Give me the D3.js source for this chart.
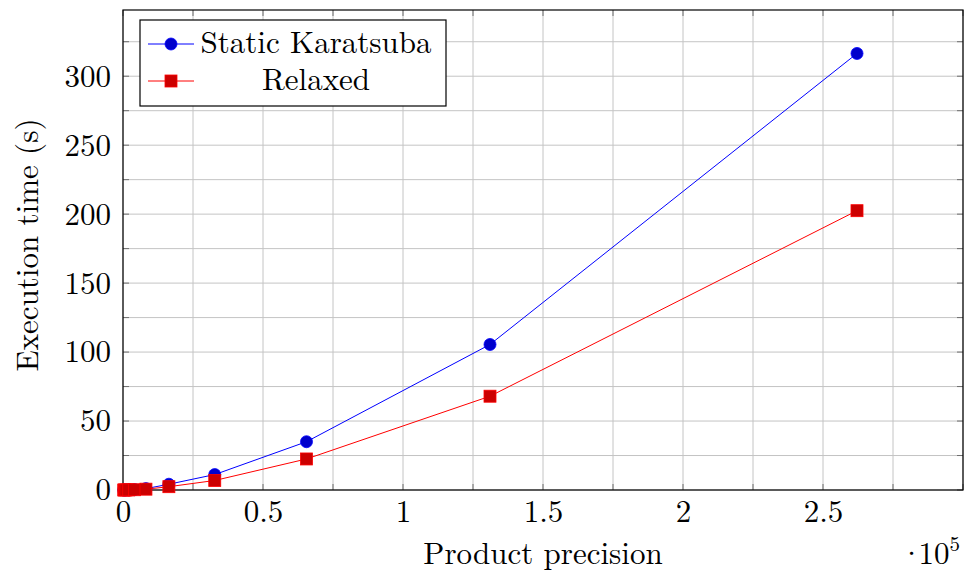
<!DOCTYPE html>
<html>
<head>
<meta charset="utf-8">
<script src="https://cdn.jsdelivr.net/npm/d3@7"></script>
<style>
  body { margin: 0; background: #fff; }
  svg { display: block; }
</style>
</head>
<body>
<div id="chart"></div>
<script>
// product precision (x, in units of 10^5) and execution times (s)
const precision = [0.00256, 0.00512, 0.01024, 0.02048, 0.04096, 0.08192, 0.16384, 0.32768, 0.65536, 1.31072, 2.62144];
const staticKaratsuba = [0.01, 0.02, 0.05, 0.1, 0.3, 1.0, 4.2, 11.2, 35.0, 105.5, 316.5];
const relaxed = [0.01, 0.02, 0.04, 0.08, 0.2, 0.6, 2.4, 6.9, 22.5, 68.0, 202.5];
const seriesNames = ["Static Karatsuba", "Relaxed"];
const xTickLabels = ["0", "0.5", "1", "1.5", "2", "2.5"];
const yTickValues = [0, 50, 100, 150, 200, 250, 300];

const FONT = "'Latin Modern Roman', 'CMU Serif', 'Liberation Serif', serif";
const FS = "31px";
const width = 968, height = 575;
const margin = { top: 10, right: 5, bottom: 85, left: 123 };
const iw = width - margin.left - margin.right;
const ih = height - margin.top - margin.bottom;

const svg = d3.select("#chart").append("svg")
  .attr("width", width)
  .attr("height", height);

const x = d3.scaleLinear().domain([0, 3.0]).range([0, iw]);
const y = d3.scaleLinear().domain([0, 348]).range([ih, 0]);

const g = svg.append("g")
  .attr("transform", "translate(" + margin.left + "," + margin.top + ")");

// grid lines, major and minor
const xGrid = d3.range(0, 3.0001, 0.25);
const yGrid = d3.range(0, 348, 25);

g.append("g").selectAll("line").data(xGrid).enter().append("line")
  .attr("x1", d => x(d)).attr("x2", d => x(d))
  .attr("y1", 0).attr("y2", ih)
  .attr("stroke", "#c4c4c4").attr("stroke-width", 1);

g.append("g").selectAll("line").data(yGrid).enter().append("line")
  .attr("x1", 0).attr("x2", iw)
  .attr("y1", d => y(d)).attr("y2", d => y(d))
  .attr("stroke", "#c4c4c4").attr("stroke-width", 1);

// tick marks on all four sides (inside)
const tickLen = 6;
const tickCol = "#6e6e6e";
const ticksG = g.append("g");
xGrid.forEach(d => {
  ticksG.append("line").attr("x1", x(d)).attr("x2", x(d)).attr("y1", ih).attr("y2", ih - tickLen).attr("stroke", tickCol);
  ticksG.append("line").attr("x1", x(d)).attr("x2", x(d)).attr("y1", 0).attr("y2", tickLen).attr("stroke", tickCol);
});
yGrid.forEach(d => {
  ticksG.append("line").attr("x1", 0).attr("x2", tickLen).attr("y1", y(d)).attr("y2", y(d)).attr("stroke", tickCol);
  ticksG.append("line").attr("x1", iw).attr("x2", iw - tickLen).attr("y1", y(d)).attr("y2", y(d)).attr("stroke", tickCol);
});

// tick labels via d3 axes (lines removed)
const xAxis = d3.axisBottom(x)
  .tickValues(d3.range(0, 2.51, 0.5))
  .tickFormat((d, i) => xTickLabels[i])
  .tickSize(0).tickPadding(10);
const xa = g.append("g").attr("transform", "translate(0," + ih + ")").call(xAxis);
xa.select(".domain").remove();
xa.selectAll("text").style("font-family", FONT).style("font-size", FS).attr("fill", "#000");

const yAxis = d3.axisLeft(y)
  .tickValues(yTickValues)
  .tickFormat(d3.format("d"))
  .tickSize(0).tickPadding(12);
const ya = g.append("g").call(yAxis);
ya.select(".domain").remove();
ya.selectAll("text").style("font-family", FONT).style("font-size", FS).attr("fill", "#000");

// frame
g.append("rect").attr("x", 0).attr("y", 0).attr("width", iw).attr("height", ih)
  .attr("fill", "none").attr("stroke", "#000").attr("stroke-width", 1.2);

// series
const line = d3.line().x(d => x(d[0])).y(d => y(d[1]));
const blueData = precision.map((p, i) => [p, staticKaratsuba[i]]);
const redData = precision.map((p, i) => [p, relaxed[i]]);

g.append("path").datum(blueData).attr("d", line)
  .attr("fill", "none").attr("stroke", "#0000ff").attr("stroke-width", 1);
g.selectAll(".bm").data(blueData).enter().append("circle")
  .attr("cx", d => x(d[0])).attr("cy", d => y(d[1])).attr("r", 6)
  .attr("fill", "#0000cc").attr("stroke", "#0000ff").attr("stroke-width", 0.8);

g.append("path").datum(redData).attr("d", line)
  .attr("fill", "none").attr("stroke", "#ff0000").attr("stroke-width", 1);
g.selectAll(".rm").data(redData).enter().append("rect")
  .attr("x", d => x(d[0]) - 6).attr("y", d => y(d[1]) - 6)
  .attr("width", 12).attr("height", 12)
  .attr("fill", "#cc0000").attr("stroke", "#ff0000").attr("stroke-width", 0.8);

// axis titles
svg.append("text")
  .attr("x", 543).attr("y", 564)
  .attr("text-anchor", "middle")
  .style("font-family", FONT).style("font-size", FS)
  .text("Product precision");

const mult = svg.append("text").attr("x", 960).attr("y", 564)
  .attr("text-anchor", "end")
  .style("font-family", FONT).style("font-size", FS);
mult.append("tspan").text("·");
mult.append("tspan").attr("dx", -5).text("10");
mult.append("tspan").attr("dy", -13).style("font-size", "21px").text("5");

svg.append("text")
  .attr("transform", "translate(38,245) rotate(-90)")
  .attr("text-anchor", "middle")
  .style("font-family", FONT).style("font-size", FS)
  .text("Execution time (s)");

// legend
const lg = svg.append("g").attr("transform", "translate(140,20)");
lg.append("rect").attr("width", 306).attr("height", 86)
  .attr("fill", "#fff").attr("stroke", "#000").attr("stroke-width", 1.2);

lg.append("line").attr("x1", 8).attr("x2", 54).attr("y1", 24).attr("y2", 24)
  .attr("stroke", "#0000ff");
lg.append("circle").attr("cx", 31).attr("cy", 24).attr("r", 6)
  .attr("fill", "#0000cc").attr("stroke", "#0000ff").attr("stroke-width", 0.8);
lg.append("text").attr("x", 176).attr("y", 33).attr("text-anchor", "middle")
  .style("font-family", FONT).style("font-size", FS).text(seriesNames[0]);

lg.append("line").attr("x1", 8).attr("x2", 54).attr("y1", 61).attr("y2", 61)
  .attr("stroke", "#ff0000");
lg.append("rect").attr("x", 25).attr("y", 55).attr("width", 12).attr("height", 12)
  .attr("fill", "#cc0000").attr("stroke", "#ff0000").attr("stroke-width", 0.8);
lg.append("text").attr("x", 176).attr("y", 70).attr("text-anchor", "middle")
  .style("font-family", FONT).style("font-size", FS).text(seriesNames[1]);
</script>
</body>
</html>
